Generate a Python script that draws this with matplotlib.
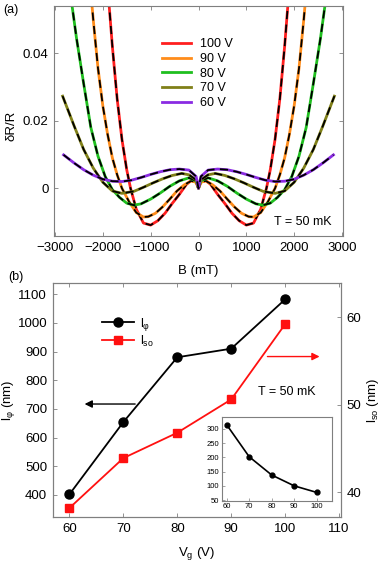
import numpy as np
import matplotlib
matplotlib.use('Agg')
import matplotlib.pyplot as plt

plt.rcParams['font.family'] = ['Liberation Sans', 'DejaVu Sans']
plt.rcParams['mathtext.fontset'] = 'custom'
plt.rcParams['mathtext.rm'] = 'Liberation Sans'
plt.rcParams['mathtext.it'] = 'Liberation Sans'

# ---- panel (a): dR/R vs B, right half (curves are symmetric in B) ----
b_100 = [0, 50, 150, 250, 400, 550, 700, 850, 1000, 1150, 1300, 1420, 1500, 1600, 1700, 1800, 1900]
r_100 = [0, 0.0018, 0.0023, 0.0012, -0.0018, -0.0045, -0.0074, -0.0096, -0.0109, -0.0103,
         -0.0062, 0.0, 0.0055, 0.0145, 0.0265, 0.0420, 0.0600]
b_90 = [0, 50, 150, 300, 450, 600, 750, 900, 1050, 1150, 1300, 1450, 1600, 1700, 1800, 1900,
        2000, 2100, 2200, 2250]
r_90 = [0, 0.0018, 0.0022, 0.0010, -0.0008, -0.0032, -0.0055, -0.0074, -0.0084, -0.0085,
        -0.0072, -0.0040, 0.0, 0.0040, 0.0090, 0.0160, 0.0245, 0.0355, 0.0500, 0.0580]
b_80 = [0, 50, 200, 400, 600, 800, 1000, 1200, 1350, 1500, 1650, 1800, 1950, 2100, 2250,
        2400, 2550, 2700]
r_80 = [0, 0.0022, 0.0031, 0.0022, 0.0006, -0.0014, -0.0032, -0.0046, -0.0050, -0.0044,
        -0.0027, -0.0004, 0.0035, 0.0095, 0.0180, 0.0310, 0.0445, 0.0600]
b_70 = [0, 50, 200, 350, 550, 750, 950, 1150, 1350, 1600, 1800, 2000, 2200, 2400, 2600, 2840]
r_70 = [0, 0.0025, 0.0040, 0.0044, 0.0038, 0.0028, 0.0016, 0.0003, -0.0009, -0.0015,
        -0.0008, 0.0018, 0.0060, 0.0115, 0.0185, 0.0273]
b_60 = [0, 50, 200, 400, 600, 800, 1000, 1200, 1400, 1600, 1800, 2000, 2200, 2400, 2600, 2820]
r_60 = [0, 0.0035, 0.0054, 0.0057, 0.0055, 0.0049, 0.0041, 0.0032, 0.0024, 0.0020,
        0.0021, 0.0027, 0.0039, 0.0055, 0.0075, 0.0099]

curve_labels = ['100 V', '90 V', '80 V', '70 V', '60 V']
curve_colors = ['#ff1f1f', '#ff8c1a', '#1fbf1f', '#808018', '#8a2be2']

# ---- panel (b) ----
vg = [60, 70, 80, 90, 100]
l_phi = [402, 654, 880, 910, 1082]
l_so = [38.2, 43.9, 46.8, 50.6, 59.2]
inset_y = [314, 202, 138, 100, 77]


def mirror(b, r):
    b = np.asarray(b, float)
    r = np.asarray(r, float)
    return np.concatenate([-b[::-1], b[1:]]), np.concatenate([r[::-1], r[1:]])


frame_col = '#7f7f7f'


def style(ax, right=True, top=True):
    for s in ax.spines.values():
        s.set_color(frame_col)
        s.set_linewidth(0.8)
    ax.tick_params(direction='in', length=3, width=0.6, color=frame_col,
                   top=top, right=right, labelsize=9.5, pad=4)


fig = plt.figure(figsize=(3.85, 5.65), dpi=100)
W, H = 385.0, 565.0

# (a)
ax1 = fig.add_axes([54 / W, 1 - 236 / H, 289 / W, 230 / H])
curves = [(b_100, r_100), (b_90, r_90), (b_80, r_80), (b_70, r_70), (b_60, r_60)]
handles = []
for (b, r), lab, col in zip(curves, curve_labels, curve_colors):
    bb, rr = mirror(b, r)
    h, = ax1.plot(bb, rr, color=col, lw=2.0, label=lab, solid_joinstyle='round')
    ax1.plot(bb, rr, color='k', lw=1.3, dashes=(4.5, 3))
    handles.append(h)
ax1.set_xlim(-3020, 3020)
ax1.set_ylim(-0.01413, 0.054)
ax1.set_xticks([-3000, -2000, -1000, 0, 1000, 2000, 3000])
ax1.set_xticklabels(['\u22123000', '\u22122000', '\u22121000', '0', '1000', '2000', '3000'])
ax1.set_yticks([0, 0.02, 0.04])
ax1.set_yticklabels(['0', '0.02', '0.04'])
style(ax1)
ax1.set_xlabel('B (mT)', fontsize=9.5)
ax1.xaxis.set_label_coords(0.5, -0.125)
ax1.set_ylabel('\u03b4R/R', fontsize=9.5)
ax1.yaxis.set_label_coords(-0.125, 0.48)
ax1.legend(handles=handles, loc='upper left', bbox_to_anchor=(0.375, 0.86), frameon=False,
           fontsize=9, handlelength=2.3, handletextpad=0.7, labelspacing=0.22,
           borderaxespad=0, borderpad=0)
ax1.text(0.96, 0.06, 'T = 50 mK', transform=ax1.transAxes, ha='right', va='center',
         fontsize=9)
fig.text(3 / W, 1 - 10 / H, '(a)', fontsize=9, va='center')

# (b)
ax2 = fig.add_axes([52.7 / W, 1 - 517.3 / H, 288 / W, 234.3 / H])
ax2r = ax2.twinx()
hp, = ax2.plot(vg, l_phi, color='k', lw=1.3, marker='o', ms=6.5, label='l$_{\\varphi}$')
hs, = ax2r.plot(vg, l_so, color='#ff1010', lw=1.3, marker='s', ms=6, label='l$_{\\rm so}$')
ax2.set_xlim(56.9, 110.3)
ax2.set_ylim(322, 1139)
ax2r.set_ylim(37.14, 63.9)
ax2.set_xticks([60, 70, 80, 90, 100, 110])
ax2.set_yticks(range(400, 1101, 100))
ax2r.set_yticks([40, 50, 60])
style(ax2, right=False)
style(ax2r, right=True, top=False)
ax2r.tick_params(left=False)
ax2.set_xlabel('V$_{\\rm g}$ (V)', fontsize=9.5)
ax2.xaxis.set_label_coords(0.5, -0.12)
ax2.set_ylabel('l$_{\\varphi}$ (nm)', fontsize=9.5)
ax2.yaxis.set_label_coords(-0.124, 0.5)
ax2r.set_ylabel('l$_{\\rm so}$ (nm)', fontsize=9.5)
ax2r.yaxis.set_label_coords(1.084, 0.5)
ax2.legend(handles=[hp, hs], loc='upper left', bbox_to_anchor=(0.17, 0.86), frameon=False,
           fontsize=9, handlelength=2.6, handletextpad=0.5, labelspacing=0.05,
           borderaxespad=0, borderpad=0)
ax2.annotate('', xy=(62.3, 717), xytext=(72.7, 717),
             arrowprops=dict(arrowstyle='-|>', color='k', lw=1.0, mutation_scale=11))
ax2r.annotate('', xy=(106.9, 55.5), xytext=(96.2, 55.5),
              arrowprops=dict(arrowstyle='-|>', color='#ff1010', lw=1.0, mutation_scale=11))
ax2.text(100.3, 760, 'T = 50 mK', ha='center', va='center', fontsize=9)
fig.text(8 / W, 1 - 277 / H, '(b)', fontsize=9, va='center')

# inset
axin = fig.add_axes([221.7 / W, 1 - 500.7 / H, 110.3 / W, 83.4 / H])
axin.plot(vg, inset_y, color='k', lw=1.2, marker='o', ms=3.5)
axin.set_xlim(57.8, 106.8)
axin.set_ylim(48, 340)
axin.set_xticks([60, 70, 80, 90, 100])
axin.set_yticks([50, 100, 150, 200, 250, 300])
for s in axin.spines.values():
    s.set_color(frame_col)
    s.set_linewidth(0.8)
axin.tick_params(direction='in', length=2, width=0.5, color=frame_col, labelsize=5.5, pad=2)

fig.savefig('out.png', dpi=100)
